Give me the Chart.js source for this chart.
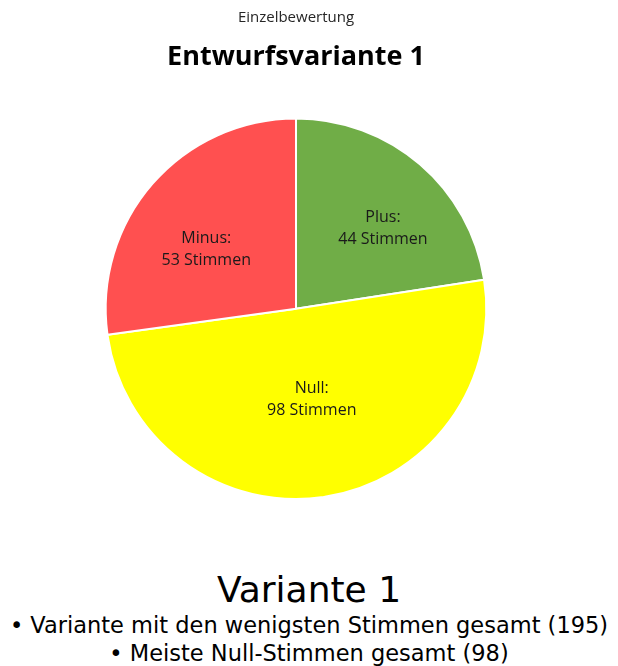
<!DOCTYPE html>
<html>
<head>
<meta charset="utf-8">
<script src="https://cdn.jsdelivr.net/npm/chart.js@4.4.1/dist/chart.umd.min.js"></script>
<style>
  body { margin: 0; background: #fff; width: 618px; height: 666px; overflow: hidden; }
  .wrap { position: relative; width: 618px; height: 530px; }
  .notes { text-align: center; font-family: "DejaVu Sans", sans-serif; color: #000; white-space: nowrap; }
  .notes h2 { font-weight: normal; font-size: 36px; margin: 39px 0 0 0; line-height: 42px; }
  .notes p { margin: 0; font-size: 22.5px; line-height: 28px; }
</style>
</head>
<body>
<div class="wrap"><canvas id="pieChart"></canvas></div>
<div class="notes">
  <h2>Variante 1</h2>
  <p>• Variante mit den wenigsten Stimmen gesamt (195)</p>
  <p>• Meiste Null-Stimmen gesamt (98)</p>
</div>
<script>
const categories = ["Plus", "Null", "Minus"];
const votes = [44, 98, 53];
const sliceColors = ["#70AD47", "#FFFF00", "#FF5050"];

// label nudges so they sit like the original (dx, dy in px)
const labelNudge = [[25, -8], [2, -3], [-18, 3]];

const sliceLabels = {
  id: "sliceLabels",
  afterDatasetsDraw(chart) {
    const { ctx } = chart;
    const meta = chart.getDatasetMeta(0);
    ctx.save();
    ctx.font = "16px 'Open Sans', sans-serif";
    ctx.fillStyle = "#1a1a1a";
    ctx.textAlign = "center";
    ctx.textBaseline = "middle";
    meta.data.forEach((arc, i) => {
      const p = arc.tooltipPosition();
      const x = p.x + labelNudge[i][0];
      const y = p.y + labelNudge[i][1];
      ctx.fillText(categories[i] + ":", x, y - 11);
      ctx.fillText(votes[i] + " Stimmen", x, y + 11);
    });
    ctx.restore();
  }
};

new Chart(document.getElementById("pieChart"), {
  type: "pie",
  data: {
    labels: categories,
    datasets: [{
      data: votes,
      backgroundColor: sliceColors,
      borderColor: "#fff",
      borderWidth: 2
    }]
  },
  options: {
    responsive: true,
    maintainAspectRatio: false,
    animation: false,
    layout: { padding: { left: 0, right: 26, top: 0, bottom: 30 } },
    plugins: {
      legend: { display: false },
      tooltip: { enabled: false },
      title: {
        display: true,
        text: "Einzelbewertung",
        color: "#262626",
        font: { family: "'Open Sans', sans-serif", size: 15, weight: "normal" },
        padding: { top: 9, bottom: 14 }
      },
      subtitle: {
        display: true,
        text: "Entwurfsvariante 1",
        color: "#000",
        font: { family: "'Open Sans', sans-serif", size: 27, weight: "bold" },
        padding: { top: 0, bottom: 44 }
      }
    }
  },
  plugins: [sliceLabels]
});
</script>
</body>
</html>
